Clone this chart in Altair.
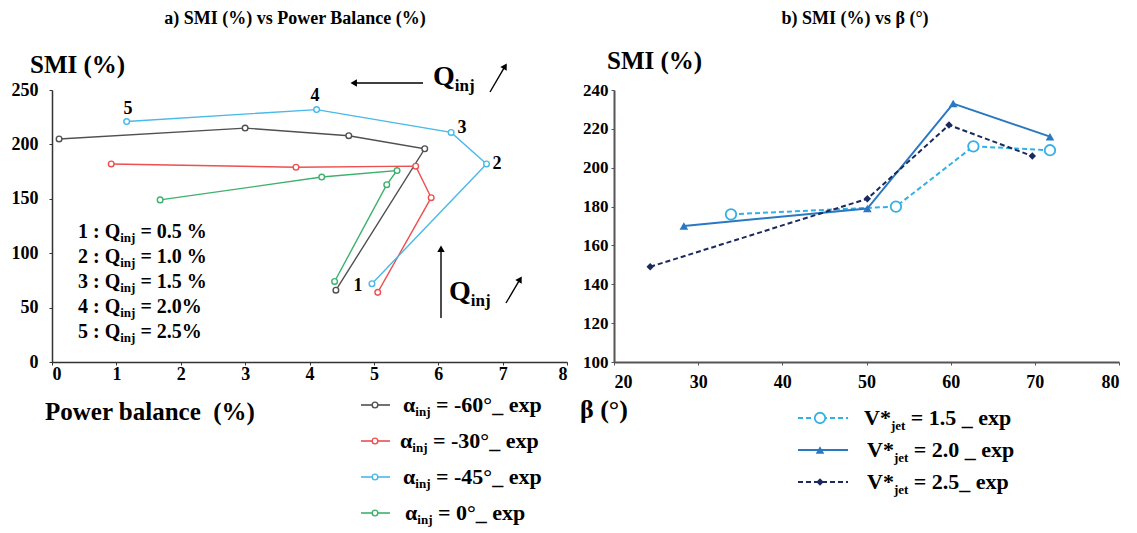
import math
import altair as alt
import pandas as pd

# ---------------- data ----------------
q_index = [1, 2, 3, 4, 5]
left_series = ["-60", "-30", "-45", "0"]
left_colors = ["#505050", "#ee4f4f", "#48b9e8", "#3cb26c"]
pb_m60 = [4.41, 5.79, 4.61, 3.00, 0.11]
smi_m60 = [66, 196, 208, 215, 205]
pb_m30 = [5.06, 5.89, 5.65, 3.79, 0.92]
smi_m30 = [64, 151, 180, 179, 182]
pb_m45 = [4.97, 6.75, 6.20, 4.11, 1.16]
smi_m45 = [72, 182, 211, 232, 221]
pb_0 = [4.39, 5.20, 5.36, 4.19, 1.68]
smi_0 = [74, 163, 176, 170, 149]

beta_v15 = [33.9, 53.5, 62.7, 71.8]
smi_v15 = [176, 180, 211, 209]
beta_v20 = [28.3, 50.1, 60.3, 71.8]
smi_v20 = [170, 179, 233, 216]
beta_v25 = [24.3, 50.1, 59.8, 69.7]
smi_v25 = [149, 184, 222, 206]

x_ticks_left = list(range(0, 9))
y_ticks_left = [0, 50, 100, 150, 200, 250]
x_ticks_right = [20, 30, 40, 50, 60, 70, 80]
y_ticks_right = [100, 120, 140, 160, 180, 200, 220, 240]

C15, C20, C25 = "#33b0e6", "#2a78c2", "#1b2a5e"
SERIF = "Liberation Serif"

# ---------------- tables ----------------
rows = []
for name, pbs, smis in [("-60", pb_m60, smi_m60), ("-30", pb_m30, smi_m30),
                        ("-45", pb_m45, smi_m45), ("0", pb_0, smi_0)]:
    for q, p, s in zip(q_index, pbs, smis):
        rows.append({"series": name, "q": q, "pb": p, "smi": s})
df_left = pd.DataFrame(rows)

def right_df(b, s):
    return pd.DataFrame({"idx": list(range(len(b))), "beta": b, "smi": s})

df15, df20, df25 = right_df(beta_v15, smi_v15), right_df(beta_v20, smi_v20), right_df(beta_v25, smi_v25)

ONE = pd.DataFrame({"k": [0]})

# ---------------- helpers for annotations ----------------
W = {' ': 250, '%': 1000, '(': 333, ')': 333, '*': 500, '-': 333, '.': 250, ':': 333,
     '=': 570, '_': 500, '°': 400, 'Q': 778, 'V': 722, 'S': 556, 'M': 944, 'I': 389,
     'a': 500, 'e': 444, 'i': 278, 'j': 333, 'n': 556, 'p': 556, 't': 333, 'x': 500,
     'α': 560, 'β': 560}

def tw(s, size):
    return sum(W.get(c, 500) for c in s) * size / 1000.0

def txt(s, x, y, size, align="left", color="black"):
    return alt.Chart(ONE).mark_text(
        text=s, align=align, baseline="alphabetic", font=SERIF, fontSize=size,
        fontWeight="bold", color=color
    ).encode(x=alt.value(x), y=alt.value(y))

def rich(x, y, parts):
    out = []
    cx = x
    for s, size, dy in parts:
        lead = len(s) - len(s.lstrip(" "))
        cx += lead * W[" "] * size / 1000.0
        body = s.lstrip(" ")
        out.append(txt(body, cx, y + dy, size))
        cx += tw(body, size)
    return out

def rule(x1, y1, x2, y2, color="black", width=1.5, dash=None):
    kw = dict(color=color, strokeWidth=width)
    if dash:
        kw["strokeDash"] = dash
    return alt.Chart(ONE).mark_rule(**kw).encode(
        x=alt.value(x1), y=alt.value(y1), x2=alt.value(x2), y2=alt.value(y2))

def arrow(x1, y1, x2, y2, size=55):
    dx, dy = x2 - x1, y2 - y1
    L = math.hypot(dx, dy)
    ux, uy = dx / L, dy / L
    h = math.sqrt(size) * 0.5
    cx, cy = x2 - ux * h, y2 - uy * h
    ang = math.degrees(math.atan2(dx, -dy)) % 360
    head = alt.Chart(ONE).mark_point(shape="triangle-up", filled=True, color="black",
                                     size=size, angle=ang, opacity=1).encode(
        x=alt.value(cx), y=alt.value(cy))
    return [rule(x1, y1, cx, cy, width=1.4), head]

def sym(x, y, shape, size, color, filled, sw=1.5):
    if filled:
        m = alt.Chart(ONE).mark_point(shape=shape, size=size, filled=True, color=color, opacity=1)
    else:
        m = alt.Chart(ONE).mark_point(shape=shape, size=size, fill="white", fillOpacity=1,
                                      stroke=color, strokeWidth=sw, opacity=1)
    return m.encode(x=alt.value(x), y=alt.value(y))

# ---------------- left panel ----------------
axl = dict(labelFont=SERIF, labelFontWeight="bold", labelColor="black", domainColor="#333333",
           domainWidth=1.5, tickColor="#333333", tickSize=3, grid=False, title=None)
sc_left = alt.Scale(domain=left_series, range=left_colors)
XL = alt.X("pb:Q", scale=alt.Scale(domain=[0, 8], nice=False, zero=False),
           axis=alt.Axis(values=x_ticks_left, format="d", labelFontSize=18, labelPadding=0, **axl))
YL = alt.Y("smi:Q", scale=alt.Scale(domain=[0, 250], nice=False, zero=False),
           axis=alt.Axis(values=y_ticks_left, format="d", labelFontSize=18, labelPadding=11, **axl))

lines_left = alt.Chart(df_left).mark_line(strokeWidth=1.4).encode(
    x=XL, y=YL, color=alt.Color("series:N", scale=sc_left, legend=None), order=alt.Order("q:Q"))
pts_left = alt.Chart(df_left).mark_point(shape="circle", size=32, fill="white", fillOpacity=1,
                                         strokeWidth=1.4, opacity=1).encode(
    x=XL, y=YL, stroke=alt.Stroke("series:N", scale=sc_left, legend=None))

ann_left = []
# anchor fixing the top-left corner of the drawing (invisible)
ann_left.append(alt.Chart(ONE).mark_rule(opacity=0).encode(
    x=alt.value(-44), y=alt.value(-82), x2=alt.value(-43), y2=alt.value(-82)))
ann_left.append(txt("a) SMI (%) vs Power Balance (%)", 243, -66, 18, align="center"))
ann_left.append(txt("SMI (%)", -22, -17, 25))
ann_left.append(txt("Power balance\u00a0 (%)", -7, 330, 25))
for s, x, y in [("5", 76, 24), ("4", 263, 11), ("3", 410, 43), ("2", 445, 79), ("1", 306, 201)]:
    ann_left.append(txt(s, x, y, 18, align="center"))
ann_left += rich(381, -5, [("Q", 28, 0), ("inj", 17, 6)])
ann_left += arrow(371, -7, 298, -7)
ann_left += arrow(438, 2, 455, -27)
ann_left += rich(397, 210, [("Q", 28, 0), ("inj", 17, 6)])
ann_left += arrow(389, 228, 389, 155)
ann_left += arrow(454, 213, 470, 186)
for i, val in enumerate([" = 0.5 %", " = 1.0 %", " = 1.5 %", " = 2.0%", " = 2.5%"]):
    y = 148 + 25 * i
    ann_left += rich(26, y, [(f"{i + 1} : Q", 20, 0), ("inj", 13, 4), (val, 20, 0)])
leg_left = [(" = -60°_ exp", 351), (" = -30°_ exp", 348), (" = -45°_ exp", 351), (" = 0°_ exp", 353)]
for i, (val, tx) in enumerate(leg_left):
    yc = 315 + 36 * i
    ann_left.append(rule(309, yc, 338, yc, color=left_colors[i], width=1.6))
    ann_left.append(sym(323, yc, "circle", 32, left_colors[i], False, 1.4))
    ann_left += rich(tx, yc + 7, [("α", 22, 0), ("inj", 13, 4), (val, 22, 0)])

left = alt.layer(lines_left, pts_left, *ann_left).properties(width=515, height=272)

# ---------------- right panel ----------------
axr = dict(labelFont=SERIF, labelFontWeight="bold", labelColor="black", domainColor="#555555",
           domainWidth=2, tickColor="#555555", tickSize=3, grid=False, title=None)
XR = alt.X("beta:Q", scale=alt.Scale(domain=[20, 80], nice=False, zero=False),
           axis=alt.Axis(values=x_ticks_right, format="d", labelFontSize=18, labelPadding=8, **axr))
YR = alt.Y("smi:Q", scale=alt.Scale(domain=[100, 240], nice=False, zero=False),
           axis=alt.Axis(values=y_ticks_right, format="d", labelFontSize=17, labelPadding=3, **axr))

l15 = alt.Chart(df15).mark_line(color=C15, strokeWidth=2, strokeDash=[5, 3]).encode(x=XR, y=YR, order="idx:Q")
p15 = alt.Chart(df15).mark_point(shape="circle", size=110, fill="white", fillOpacity=1, stroke=C15,
                                 strokeWidth=1.8, opacity=1).encode(x=XR, y=YR)
l20 = alt.Chart(df20).mark_line(color=C20, strokeWidth=2).encode(x=XR, y=YR, order="idx:Q")
p20 = alt.Chart(df20).mark_point(shape="triangle-up", size=75, filled=True, color=C20, opacity=1).encode(x=XR, y=YR)
l25 = alt.Chart(df25).mark_line(color=C25, strokeWidth=2, strokeDash=[5, 3]).encode(x=XR, y=YR, order="idx:Q")
p25 = alt.Chart(df25).mark_point(shape="diamond", size=55, filled=True, color=C25, opacity=1).encode(x=XR, y=YR)

ann_right = []
ann_right.append(txt("b) SMI (%) vs β (°)", 241, -66, 18, align="center"))
ann_right.append(txt("SMI (%)", -7, -21, 25))
ann_right.append(txt("β (°)", -34, 328, 26))
leg_right = [(" = 1.5 _ exp", 250, C15, [5, 3], "circle", 110, False),
             (" = 2.0 _ exp", 253, C20, None, "triangle-up", 75, True),
             (" = 2.5_ exp", 253, C25, [5, 3], "diamond", 55, True)]
for i, (val, tx, col, dash, shp, sz, filled) in enumerate(leg_right):
    yc = 328 + 32 * i
    ann_right.append(rule(184, yc, 234, yc, color=col, width=2, dash=dash))
    ann_right.append(sym(206, yc, shp, sz, col, filled, 1.8))
    ann_right += rich(tx, yc + 7, [("V*", 22, 0), ("jet", 13, 5), (val, 22, 0)])

right = alt.layer(l15, p15, l20, p20, l25, p25, *ann_right).properties(width=505, height=272)

chart = alt.hconcat(left, right, spacing=47, bounds="flush").properties(
    padding={"left": 0, "top": 0, "right": 2, "bottom": 2},
    background="white",
).configure_view(strokeWidth=0)

chart.save("out.html", embed_options={"renderer": "svg", "actions": False})
